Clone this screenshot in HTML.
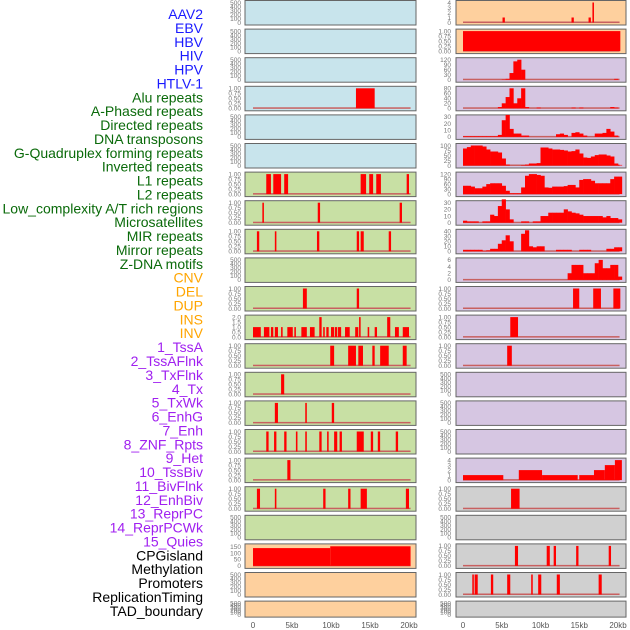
<!DOCTYPE html>
<html><head><meta charset="utf-8"><style>
html,body{margin:0;padding:0;background:#fff;width:630px;height:630px;overflow:hidden}
svg{display:block;font-family:"Liberation Sans",sans-serif}
</style></head><body>
<svg id="chart" width="630" height="630" xmlns="http://www.w3.org/2000/svg"></svg>
<script>
// ---- labels ----
const trackLabels = ["AAV2","EBV","HBV","HIV","HPV","HTLV-1","Alu repeats","A-Phased repeats","Directed repeats","DNA transposons","G-Quadruplex forming repeats","Inverted repeats","L1 repeats","L2 repeats","Low_complexity A/T rich regions","Microsatellites","MIR repeats","Mirror repeats","Z-DNA motifs","CNV","DEL","DUP","INS","INV","1_TssA","2_TssAFlnk","3_TxFlnk","4_Tx","5_TxWk","6_EnhG","7_Enh","8_ZNF_Rpts","9_Het","10_TssBiv","11_BivFlnk","12_EnhBiv","13_ReprPC","14_ReprPCWk","15_Quies","CPGisland","Methylation","Promoters","ReplicationTiming","TAD_boundary"];
const labelGroups = ["v","v","v","v","v","v","r","r","r","r","r","r","r","r","r","r","r","r","r","s","s","s","s","s","c","c","c","c","c","c","c","c","c","c","c","c","c","c","c","o","o","o","o","o"];
const xTickLabels = ["0","5kb","10kb","15kb","20kb"];
const xTickValues = [0,5,10,15,20];
const ticks500 = [0,100,200,300,400,500];
const ticks1 = [0,0.25,0.5,0.75,1];

// ---- left column segment data [startKb, endKb, value] ----
const leftAlu = [[13.2,15.6,1]];
const leftL1 = [[1.7,2.3,1],[2.6,3.6,1],[4.0,4.5,1],[13.8,14.5,1],[14.9,15.4,1],[15.8,16.4,1],[19.7,20.0,1]];
const leftR7 = [[1.2,1.4,1],[8.3,8.6,1],[18.8,19.1,1]];
const leftR8 = [[0.5,0.8,1],[2.8,3.0,1],[8.2,8.5,1],[13.3,13.6,1],[13.8,14.2,1],[17.4,17.7,1]];
const leftR10 = [[6.4,6.9,1],[13.3,13.6,1]];
const leftINV = [[0,1.0,1],[1.4,2.1,1],[2.3,2.6,1],[2.8,3.2,1],[3.6,3.8,1],[4.4,5.1,1],[5.3,5.5,1],[6.2,6.9,1],[7.3,7.9,1],[8.5,8.8,2],[9.0,9.2,1],[9.4,9.7,1],[10.0,10.4,1],[10.5,10.8,1],[10.9,11.3,1],[11.8,12.4,1],[13.1,13.5,1],[13.6,13.8,2],[14.7,14.9,1],[15.6,15.9,1],[17.2,17.6,2],[18.2,18.7,1],[19.2,20.0,1]];
const leftTssA = [[9.9,10.4,1],[12.2,13.2,1],[13.5,14.1,1],[15.3,15.6,1],[16.3,17.4,1],[19.2,19.7,1]];
const leftR13 = [[3.6,4.0,1]];
const leftR14 = [[2.8,3.2,1],[6.7,6.9,1],[10.1,10.4,1]];
const leftR15 = [[1.7,2.0,1],[2.7,3.0,1],[4.0,4.3,1],[5.5,5.7,1],[6.7,6.9,1],[8.5,8.8,1],[9.5,9.7,1],[10.4,10.8,1],[11.1,11.4,1],[13.3,14.2,1],[15.1,15.4,1],[16.0,16.3,1],[18.3,18.6,1]];
const leftR16 = [[4.4,4.8,1]];
const leftR17 = [[0.5,0.9,1],[2.8,3.0,1],[9.0,9.3,1],[12.2,12.5,1],[13.8,14.6,1],[19.6,20.0,1]];
const leftCPG = [[0,9.9,138],[9.9,20.2,152]];

// ---- right column ----
const rightR0 = [[5.1,5.4,1],[14.0,14.3,1],[16.2,16.5,1],[16.7,16.9,4]];
const rightR1 = [[0,20.3,1]];
// binned values (0.5kb bins)
const rightHBVbins = [0,0,0,0,0,0,0,0,0,0,2,5,40,110,120,60,0,0,0,0,0,0,0,0,0,0,0,0,0,0,0,0,0,0,0,0,0,0,0,5,0];
const rightR3bins = [0,0,0,0,0,0,0,0,0,5,20,45,80,20,40,80,5,0,0,3,0,0,0,0,0,0,0,0,3,0,3,0,0,0,0,0,0,0,5,3,0];
const rightR4bins = [1,1,1,1,1,1,1,1,1,3,25,33,12,5,5,2,2,0,0,0,0,0,0,0,4,5,3,0,6,7,5,2,0,0,5,5,6,12,8,2,0];
const rightR5bins = [85,92,100,100,100,95,80,70,70,65,35,5,0,0,0,2,5,10,10,12,90,90,85,80,80,78,75,70,72,80,60,40,38,45,52,55,55,50,45,10,3];
const rightL1bins = [50,50,45,35,35,45,60,65,65,65,50,20,5,5,5,40,110,120,120,115,110,40,38,45,45,45,48,55,55,40,85,90,90,80,65,65,65,65,90,105,105];
const rightL2bins = [3,2,2,2,0,2,2,12,10,25,35,20,5,0,0,2,2,0,2,2,10,10,15,15,15,15,20,17,15,14,12,10,10,10,10,10,8,10,7,7,5];
const rightR8bins = [3,3,3,3,3,1,2,5,5,15,22,32,20,0,0,35,42,10,8,10,10,0,0,0,3,3,3,3,0,0,3,3,3,0,0,0,0,5,5,8,8];
const rightR9bins = [0,0,0,0,0,0,0,0,0,0,0,0,0,0,0,0,0,0,0,0,0,0,0,0,0,0,0,2,4.5,4.5,4.5,2,2,2,5,6,3.5,3.5,4.5,4.5,1];
const rightR10 = [[14.2,15.0,1],[16.8,17.8,1],[19.4,20.3,1]];
const rightR11 = [[6.1,7.1,1]];
const rightR12 = [[5.7,6.3,1]];
const rightR16 = [[0,5.2,1],[7.2,10.2,2],[10.2,14.8,1],[15.0,16.9,1],[16.9,18.3,2],[18.3,19.6,3],[19.6,20.5,4]];
const rightR17 = [[6.2,7.3,1]];
const rightR19 = [[6.7,7.1,1],[10.8,11.2,1],[11.7,12.0,1],[14.6,14.9,1],[18.8,19.1,1]];
const rightR20 = [[1.2,1.4,1],[1.5,1.9,1],[3.6,3.9,1],[5.7,6.1,1],[8.8,9.0,1],[9.7,10.1,1],[12.1,12.5,1],[17.5,17.9,1]];

const BG = {b:"#c8e4ec", g:"#c8e0a4", o:"#fed09e", p:"#d6c6e2", k:"#d0d0d0"};
const panels = [
 [0,0,"b",500,ticks500,null,null],[0,1,"b",500,ticks500,null,null],[0,2,"b",500,ticks500,null,null],
 [0,3,"b",1,ticks1,leftAlu,null],[0,4,"b",500,ticks500,null,null],[0,5,"b",500,ticks500,null,null],
 [0,6,"g",1,ticks1,leftL1,null],[0,7,"g",1,ticks1,leftR7,null],[0,8,"g",1,ticks1,leftR8,null],
 [0,9,"g",500,ticks500,null,null],[0,10,"g",1,ticks1,leftR10,null],[0,11,"g",2,[0,0.5,1,1.5,2],leftINV,null],
 [0,12,"g",1,ticks1,leftTssA,null],[0,13,"g",1,ticks1,leftR13,null],[0,14,"g",1,ticks1,leftR14,null],
 [0,15,"g",1,ticks1,leftR15,null],[0,16,"g",1,ticks1,leftR16,null],[0,17,"g",1,ticks1,leftR17,null],
 [0,18,"g",500,ticks500,null,null],[0,19,"o",155,[0,50,100,150],leftCPG,null],
 [0,20,"o",500,ticks500,null,null],[0,21,"o",500,ticks500,null,null],
 [1,0,"o",4,[0,1,2,3,4],rightR0,null],[1,1,"o",1,ticks1,rightR1,null],
 [1,2,"p",120,[0,30,60,90,120],null,rightHBVbins],[1,3,"p",80,[0,20,40,60,80],null,rightR3bins],
 [1,4,"p",30,[0,10,20,30],null,rightR4bins],[1,5,"p",100,[0,25,50,75,100],null,rightR5bins],
 [1,6,"p",120,[0,30,60,90,120],null,rightL1bins],[1,7,"p",30,[0,10,20,30],null,rightL2bins],
 [1,8,"p",40,[0,10,20,30,40],null,rightR8bins],[1,9,"p",6,[0,2,4,6],null,rightR9bins],
 [1,10,"p",1,ticks1,rightR10,null],[1,11,"p",1,ticks1,rightR11,null],[1,12,"p",1,ticks1,rightR12,null],
 [1,13,"p",500,ticks500,null,null],[1,14,"p",500,ticks500,null,null],[1,15,"p",500,ticks500,null,null],
 [1,16,"p",4,[0,1,2,3,4],rightR16,null],[1,17,"k",1,ticks1,rightR17,null],
 [1,18,"k",500,ticks500,null,null],[1,19,"k",1,ticks1,rightR19,null],[1,20,"k",1,ticks1,rightR20,null],
 [1,21,"k",500,ticks500,null,null]
];

const svg = document.getElementById('chart');
const NS = "http://www.w3.org/2000/svg";
function mk(tag, attrs, parent){const e=document.createElementNS(NS,tag);for(const k in attrs)e.setAttribute(k,attrs[k]);(parent||svg).appendChild(e);return e;}
const colX = [{box:245,w:171,x0:253,pk:7.8,tx:241},{box:456,w:170,x0:463,pk:7.75,tx:451}];
function xScale(c,kb){return colX[c].x0 + kb*colX[c].pk;}
function fmt(v,t){ if(t[t.length-1]===1) return v.toFixed(2); if(t[t.length-1]===2) return v.toFixed(1); return String(v);}
const groupColor = {v:"#1a1aff", r:"#0a6a0a", s:"#ffa500", c:"#a020f0", o:"#000"};

trackLabels.forEach((t,i)=>{
  const e = mk('text',{x:203,y:14+i*13.88+5,'text-anchor':'end','font-size':14,fill:groupColor[labelGroups[i]]});
  e.textContent = t;
  
  
});

panels.forEach(p=>{
  const [c,r,bg,ymax,ticks,segs,bins]=p;
  const T = r*28.6+0.5, H = (r===21)?16:24.5;
  const yZero = T+H-2.5, yTop = T+2;
  const yS = v => yZero - (v/ymax)*(yZero-yTop);
  const g = mk('g',{});
  
  
  const box = mk('rect',{x:colX[c].box,y:T,width:colX[c].w,height:H,fill:BG[bg],stroke:"#666","stroke-width":1},g);
  
  
  ticks.forEach(v=>{
    const t = mk('text',{x:colX[c].tx,y:yS(v)+2.3,'text-anchor':'end','font-size':6.5,fill:"#777"},g);
    t.textContent = fmt(v,ticks);
    
    
  });
  if(segs||bins){
    const bl = mk('rect',{x:xScale(c,0),y:yZero-1,width:xScale(c,20.2)-xScale(c,0),height:1.5,fill:"#c86060"},g);
    
    
  }
  if(segs) segs.forEach(s=>{
    const x1=xScale(c,s[0]), x2=xScale(c,s[1]);
    const b = mk('rect',{x:x1,y:yS(s[2]),width:Math.max(1.5,x2-x1),height:yZero-yS(s[2]),fill:"#ff0000"},g);
    
    
  });
  if(bins) bins.forEach((v,i)=>{
    if(v<=0) return;
    const x1=xScale(c,i*0.5), x2=xScale(c,(i+1)*0.5);
    const b = mk('rect',{x:x1,y:yS(v),width:x2-x1+0.3,height:yZero-yS(v),fill:"#ff0000"},g);
    
    
  });
});

[0,1].forEach(c=>{
  xTickValues.forEach((v,i)=>{
    const t = mk('text',{x:xScale(c,v),y:628,'text-anchor':'middle','font-size':8,fill:"#555"});
    t.textContent = xTickLabels[i];
    
    
  });
});
</script>
</body></html>
